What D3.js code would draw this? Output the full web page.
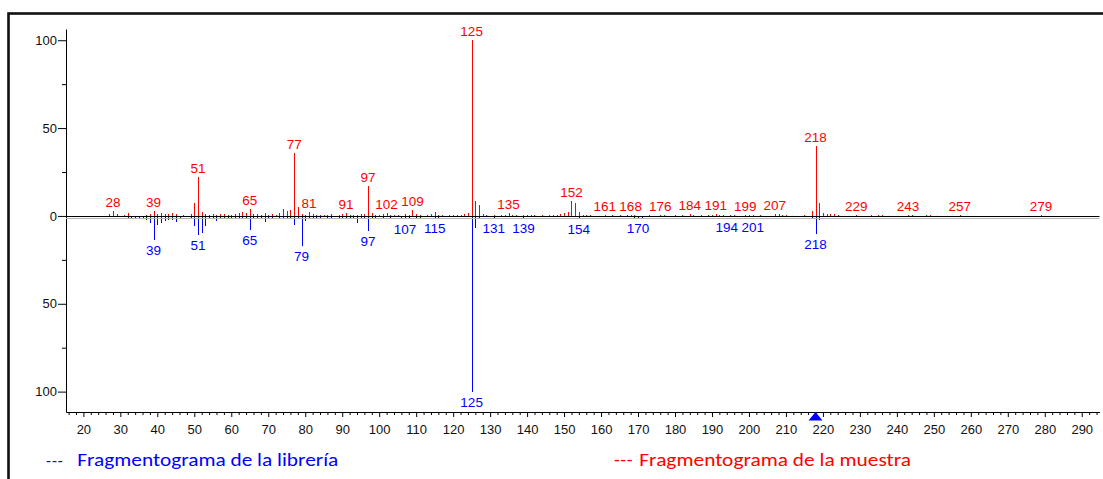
<!DOCTYPE html>
<html>
<head>
<meta charset="utf-8">
<script src="https://cdn.jsdelivr.net/npm/d3@7"></script>
<style>
  body { margin: 0; background: #fff; }
  svg { display: block; font-family: "Liberation Sans", Arial, sans-serif; }
  .axis .domain, .axis line { stroke: #000; }
  .axis text { font-size: 13px; fill: #111; }
</style>
</head>
<body>
<svg id="chart" width="1103" height="479"></svg>
<script>
// sample spectrum (red, upward): [m/z, relative intensity %]
const samplePeaks = [
  [27,1.0],[28,2.7],[29,1.2],[31,0.8],[32,1.5],[37,0.8],[38,1.2],[39,2.7],[40,1.2],[41,1.5],
  [42,1.0],[43,1.2],[44,1.5],[45,1.2],[47,0.6],[49,1.2],[50,7.2],[51,22],[52,2.2],[53,1.3],
  [54,0.8],[55,1.2],[56,0.8],[57,1.2],[58,1.0],[59,0.8],[60,0.8],[61,1.2],[62,1.5],[63,2.0],
  [64,1.5],[65,4.2],[66,1.2],[67,1.0],[68,0.8],[69,1.8],[70,0.8],[71,1.0],[72,0.8],[73,1.5],
  [74,3.8],[75,2.9],[76,3.4],[77,36],[78,4.8],[79,1.2],[80,0.8],[81,2.0],[82,1.2],[83,0.8],
  [84,0.8],[85,0.8],[86,0.8],[87,1.0],[89,0.8],[90,1.0],[91,1.8],[92,0.8],[93,0.8],[94,0.8],
  [95,1.0],[96,1.0],[97,17],[98,1.5],[99,0.8],[100,0.6],[101,1.0],[102,1.5],[103,0.8],[104,0.6],
  [105,0.8],[107,1.0],[108,0.8],[109,3.2],[110,1.0],[111,0.8],[113,0.8],[114,1.0],[115,2.3],[116,0.8],
  [117,0.8],[119,0.8],[120,0.8],[121,0.8],[122,0.8],[123,1.0],[124,1.5],[125,100],[126,8.6],[127,6.5],
  [128,1.2],[129,0.8],[131,0.6],[133,0.8],[134,0.8],[135,1.5],[136,0.6],[137,0.8],[139,0.8],[140,0.6],
  [141,0.8],[142,0.6],[144,0.8],[146,0.6],[147,0.8],[148,0.8],[149,1.2],[150,1.8],[151,2.5],[152,8.6],
  [153,7.6],[154,2.0],[155,0.8],[156,0.8],[157,0.6],[161,0.8],[163,0.6],[165,0.6],[167,0.6],[168,0.8],
  [169,0.6],[173,0.6],[176,0.8],[177,0.6],[180,0.6],[182,0.6],[184,0.9],[185,0.6],[187,0.6],[189,0.6],
  [190,0.8],[191,0.9],[192,0.8],[193,0.6],[195,0.6],[196,0.6],[199,0.8],[200,0.6],[201,0.6],[203,0.6],
  [207,0.9],[208,1.2],[209,0.8],[210,0.6],[215,0.8],[217,3.0],[218,40],[219,7.6],[220,1.5],[221,1.0],
  [222,1.0],[223,1.0],[224,0.8],[229,0.6],[233,0.6],[235,0.6],[236,0.6],[243,0.6],[244,0.6],[248,0.6],
  [249,0.6],[257,0.6],[279,0.6]
];

// library spectrum (blue, downward): [m/z, relative intensity %]
const libraryPeaks = [
  [30,0.8],[31,0.8],[32,1.0],[33,1.5],[34,1.2],[35,2.0],[36,1.2],[37,2.5],[38,4.2],[39,13.5],
  [40,5.2],[41,3.8],[42,2.7],[43,2.3],[44,2.3],[45,3.2],[46,1.0],[47,0.8],[48,0.8],[49,1.0],
  [50,5.6],[51,10.7],[52,9.6],[53,5.6],[54,1.5],[55,1.2],[56,2.6],[57,1.0],[58,1.2],[59,1.0],
  [60,1.0],[61,1.2],[62,1.5],[63,2.0],[64,1.5],[65,8.0],[66,1.5],[67,1.2],[68,1.0],[69,3.4],
  [70,1.0],[71,1.2],[72,0.8],[73,1.0],[74,1.2],[75,1.5],[76,1.2],[77,5.0],[78,1.2],[79,17],
  [80,2.8],[81,1.5],[82,1.0],[83,1.2],[84,1.0],[85,0.8],[86,1.0],[87,1.0],[89,1.5],[90,1.0],
  [91,1.5],[92,1.5],[93,1.2],[94,4.3],[95,1.0],[96,1.2],[97,8.3],[98,1.5],[99,1.0],[101,1.0],
  [102,0.8],[103,1.0],[105,0.8],[106,1.0],[107,1.5],[108,1.5],[110,1.0],[111,1.2],[112,0.8],[114,0.8],
  [115,1.2],[116,1.0],[118,0.8],[119,0.8],[121,0.8],[122,0.8],[124,0.8],[125,100],[126,7.0],[127,1.2],
  [128,0.8],[129,0.6],[131,1.2],[132,0.8],[133,0.6],[135,0.8],[137,0.6],[139,1.2],[140,0.6],[141,0.8],
  [142,0.8],[144,0.6],[145,0.8],[146,0.6],[148,0.6],[150,0.6],[153,0.8],[154,1.5],[155,0.8],[156,0.6],
  [158,0.6],[160,0.6],[163,0.6],[166,0.6],[168,0.8],[169,1.0],[170,1.2],[171,1.0],[172,0.8],[174,0.6],
  [178,0.6],[183,0.6],[186,0.6],[188,0.6],[190,0.6],[192,0.6],[194,0.8],[195,0.6],[200,0.6],[201,0.8],
  [202,0.6],[217,1.2],[218,10.3],[219,2.3]
];

const sampleLabels = [28,39,51,65,77,81,91,97,102,109,125,135,152,161,168,176,184,191,199,207,218,229,243,257,279];
const libraryLabels = [39,51,65,79,97,107,115,125,131,139,154,170,194,201,218];

const xMajorTicks = d3.range(20, 291, 10);
const xMinorTicks = d3.range(16, 295, 2).filter(d => d % 10 !== 0);
const yMajorTicks = [-100, -50, 0, 50, 100];
const yMinorTicks = [-75, -25, 25, 75];
const markerMz = 218;

const legendLibrary = "Fragmentograma de la librería";
const legendSample = "Fragmentograma de la muestra";

const RED = "#ff0000";
const BLUE = "#0000ff";
const FONT = "'Liberation Sans', Arial, sans-serif";

const svg = d3.select("#chart");

// outer frame (runs off the right and bottom edge)
svg.append("rect")
  .attr("x", 8.5).attr("y", 13.5)
  .attr("width", 1300).attr("height", 700)
  .attr("fill", "none")
  .attr("stroke", "#111")
  .attr("stroke-width", 2.6);

const x = d3.scaleLinear().domain([15.3, 294.8]).range([66, 1099.5]);
const y = d3.scaleLinear().domain([-111.6, 106.4]).range([412, 29]);
const y0 = Math.round(y(0)) + 0.5;
const px = m => Math.round(x(m)) + 0.5;

// y axis
svg.append("g")
  .attr("class", "axis")
  .attr("transform", "translate(66,0)")
  .call(d3.axisLeft(y).tickValues(yMajorTicks).tickSize(8).tickPadding(1)
    .tickSizeOuter(0).tickFormat(d => Math.abs(d)))
  .attr("font-family", FONT);
svg.append("g")
  .attr("class", "axis")
  .attr("transform", "translate(66,0)")
  .call(d3.axisLeft(y).tickValues(yMinorTicks).tickSize(4).tickFormat(""))
  .select(".domain").remove();

// x axis
svg.append("g")
  .attr("class", "axis")
  .attr("transform", "translate(0,412)")
  .call(d3.axisBottom(x).tickValues(xMajorTicks).tickSize(5).tickPadding(8).tickSizeOuter(0))
  .attr("font-family", FONT);
svg.append("g")
  .attr("class", "axis")
  .attr("transform", "translate(0,412)")
  .call(d3.axisBottom(x).tickValues(xMinorTicks).tickSize(3).tickFormat(""))
  .select(".domain").remove();

// peaks
const peaks = svg.append("g").attr("shape-rendering", "crispEdges");
peaks.selectAll("line.lib")
  .data(libraryPeaks)
  .join("line")
  .attr("class", "lib")
  .attr("x1", d => px(d[0])).attr("x2", d => px(d[0]))
  .attr("y1", y0).attr("y2", d => y(-d[1]))
  .attr("stroke", BLUE);
peaks.selectAll("line.smp")
  .data(samplePeaks)
  .join("line")
  .attr("class", "smp")
  .attr("x1", d => px(d[0])).attr("x2", d => px(d[0]))
  .attr("y1", y0).attr("y2", d => y(d[1]))
  .attr("stroke", RED);

// zero line
svg.append("line")
  .attr("x1", x.range()[0]).attr("x2", x.range()[1])
  .attr("y1", y0 + 2).attr("y2", y0 + 2)
  .attr("stroke", "#b4b4b4");
svg.append("line")
  .attr("x1", x.range()[0]).attr("x2", x.range()[1])
  .attr("y1", y0).attr("y2", y0)
  .attr("stroke", "#000");

// peak labels
const sampleMap = new Map(samplePeaks);
const libraryMap = new Map(libraryPeaks);
svg.append("g").selectAll("text")
  .data(sampleLabels)
  .join("text")
  .attr("x", d => x(d))
  .attr("y", d => y(sampleMap.get(d) || 0) - 4)
  .attr("text-anchor", "middle")
  .attr("font-size", 13.5)
  .attr("fill", RED)
  .text(d => d);
svg.append("g").selectAll("text")
  .data(libraryLabels)
  .join("text")
  .attr("x", d => x(d))
  .attr("y", d => y(-(libraryMap.get(d) || 0)) + 15)
  .attr("text-anchor", "middle")
  .attr("font-size", 13.5)
  .attr("fill", BLUE)
  .text(d => d);

// marker triangle on the x axis
const mx = x(markerMz);
svg.append("path")
  .attr("d", `M${mx - 7},420.5L${mx + 7},420.5L${mx},412Z`)
  .attr("fill", BLUE);

// legend
const legend = svg.append("g")
  .style("font-family", "Carlito, Lato, 'Open Sans', sans-serif")
  .style("font-size", "19px");
legend.append("text").attr("x", 46).attr("y", 466).attr("fill", BLUE)
  .style("font-size", "16px").style("letter-spacing", "1px").text("---");
legend.append("text").attr("x", 77.3).attr("y", 466).attr("fill", BLUE)
  .attr("textLength", 261).attr("lengthAdjust", "spacingAndGlyphs").text(legendLibrary);
legend.append("text").attr("x", 614).attr("y", 466).attr("fill", RED)
  .style("letter-spacing", "0.5px").text("---");
legend.append("text").attr("x", 639.3).attr("y", 466).attr("fill", RED)
  .attr("textLength", 271.7).attr("lengthAdjust", "spacingAndGlyphs").text(legendSample);
</script>
</body>
</html>
